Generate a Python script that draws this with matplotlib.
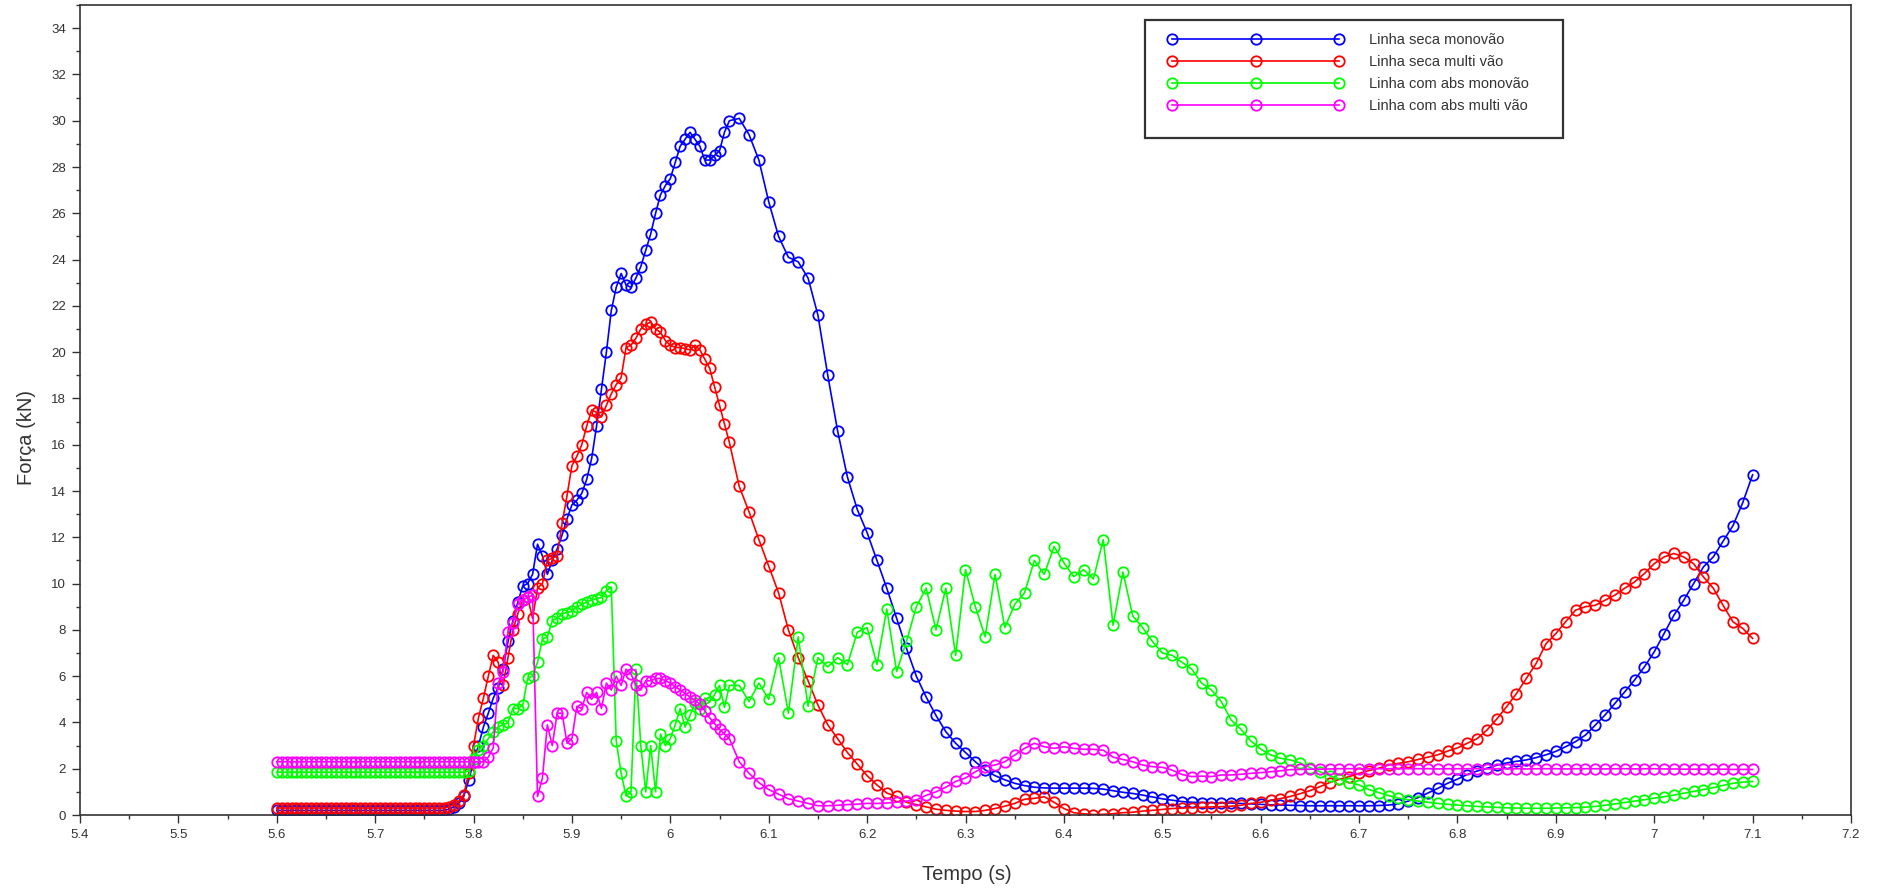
import numpy as np
import matplotlib
matplotlib.use("Agg")
import matplotlib.pyplot as plt
from matplotlib.patches import Rectangle
from matplotlib.ticker import MultipleLocator, FuncFormatter

plt.rcParams['font.family'] = ['Liberation Sans', 'DejaVu Sans']

# ---- data ----
tempo_fino = np.round(np.arange(5.600, 6.0575, 0.005), 3)    # 5.600 .. 6.055
tempo_grosso = np.round(np.arange(6.06, 7.1005, 0.01), 2)    # 6.06 .. 7.10
tempo = np.concatenate([tempo_fino, tempo_grosso])

seca_mono = [
    0.20, 0.20, 0.20, 0.20, 0.20, 0.20, 0.20, 0.20, 0.20, 0.20,
    0.20, 0.20, 0.20, 0.20, 0.20, 0.20, 0.20, 0.20, 0.20, 0.20,
    0.20, 0.20, 0.20, 0.20, 0.20, 0.20, 0.20, 0.20, 0.20, 0.20,
    0.20, 0.20, 0.20, 0.20, 0.20, 0.25, 0.35, 0.50, 0.80, 1.50,
    2.3, 3.0, 3.8, 4.4, 5.05, 5.5, 6.3, 7.5, 8.4, 9.2,
    9.9, 10.0, 10.4, 11.7, 11.2, 10.4, 11.0, 11.5, 12.1, 12.8,
    13.4, 13.6, 13.9, 14.5, 15.4, 16.8, 18.4, 20.0, 21.8, 22.8,
    23.4, 22.9, 22.8, 23.2, 23.7, 24.4, 25.1, 26.0, 26.8, 27.2,
    27.5, 28.2, 28.9, 29.2, 29.5, 29.2, 28.9, 28.3, 28.3, 28.5,
    28.7, 29.5,
    30.0, 30.1, 29.4, 28.3, 26.5, 25.0, 24.1, 23.9, 23.2, 21.6,
    19.0, 16.6, 14.6, 13.2, 12.2, 11.0, 9.8, 8.5, 7.2, 6.0,
    5.1, 4.3, 3.6, 3.1, 2.7, 2.3, 1.95, 1.7, 1.52, 1.37,
    1.27, 1.2, 1.17, 1.16, 1.16, 1.16, 1.16, 1.15, 1.12, 1.05,
    0.98, 0.93, 0.86, 0.78, 0.7, 0.64, 0.58, 0.55, 0.54, 0.53,
    0.52, 0.52, 0.5, 0.48, 0.46, 0.44, 0.43, 0.42, 0.41, 0.4,
    0.4, 0.4, 0.4, 0.4, 0.4, 0.4, 0.41, 0.43, 0.48, 0.6,
    0.75, 0.95, 1.15, 1.37, 1.55, 1.75, 1.9, 2.02, 2.15, 2.25,
    2.32, 2.38, 2.48, 2.6, 2.75, 2.95, 3.17, 3.45, 3.88, 4.32,
    4.82, 5.32, 5.83, 6.4, 7.05, 7.84, 8.63, 9.28, 10.0, 10.72,
    11.15, 11.83, 12.5, 13.5, 14.7,
]

seca_multi = [
    0.30, 0.30, 0.30, 0.30, 0.30, 0.30, 0.30, 0.30, 0.30, 0.30,
    0.30, 0.30, 0.30, 0.30, 0.30, 0.30, 0.30, 0.30, 0.30, 0.30,
    0.30, 0.30, 0.30, 0.30, 0.30, 0.30, 0.30, 0.30, 0.30, 0.30,
    0.30, 0.30, 0.30, 0.30, 0.30, 0.35, 0.45, 0.60, 0.88, 1.80,
    3.0, 4.2, 5.05, 6.0, 6.9, 6.6, 5.6, 6.8, 8.0, 8.7,
    9.3, 9.4, 8.5, 9.8, 10.0, 11.0, 11.1, 11.2, 12.6, 13.8,
    15.1, 15.5, 16.0, 16.8, 17.5, 17.4, 17.2, 17.7, 18.2, 18.6,
    18.9, 20.2, 20.3, 20.6, 21.0, 21.2, 21.3, 21.0, 20.85, 20.5,
    20.3, 20.2, 20.2, 20.15, 20.1, 20.3, 20.1, 19.7, 19.3, 18.5,
    17.7, 16.9,
    16.1, 14.2, 13.1, 11.9, 10.75, 9.6, 8.0, 6.8, 5.8, 4.75,
    3.9, 3.3, 2.7, 2.2, 1.7, 1.3, 0.95, 0.8, 0.55, 0.45,
    0.35, 0.25, 0.2, 0.17, 0.15, 0.15, 0.2, 0.28, 0.38, 0.5,
    0.68, 0.72, 0.79, 0.55, 0.28, 0.1, 0.05, 0.02, 0.03, 0.06,
    0.1, 0.12, 0.17, 0.2, 0.24, 0.28, 0.3, 0.32, 0.33, 0.35,
    0.36, 0.38, 0.42, 0.5, 0.55, 0.63, 0.71, 0.8, 0.92, 1.05,
    1.22, 1.4, 1.54, 1.66, 1.8, 1.92, 2.02, 2.16, 2.23, 2.3,
    2.4, 2.5, 2.6, 2.76, 2.9, 3.1, 3.3, 3.67, 4.15, 4.68,
    5.25, 5.9, 6.55, 7.4, 7.84, 8.35, 8.85, 9.0, 9.06, 9.28,
    9.5, 9.8, 10.07, 10.43, 10.86, 11.15, 11.3, 11.15, 10.86, 10.29,
    9.8, 9.06, 8.35, 8.06, 7.63,
]

abs_mono = [
    1.85, 1.85, 1.85, 1.85, 1.85, 1.85, 1.85, 1.85, 1.85, 1.85,
    1.85, 1.85, 1.85, 1.85, 1.85, 1.85, 1.85, 1.85, 1.85, 1.85,
    1.85, 1.85, 1.85, 1.85, 1.85, 1.85, 1.85, 1.85, 1.85, 1.85,
    1.85, 1.85, 1.85, 1.85, 1.85, 1.85, 1.85, 1.85, 1.85, 1.90,
    2.4, 2.8, 3.0, 3.3, 3.6, 3.8, 3.9, 4.0, 4.6, 4.6,
    4.75, 5.9, 6.0, 6.6, 7.6, 7.7, 8.4, 8.5, 8.7, 8.75,
    8.8, 9.0, 9.1, 9.2, 9.3, 9.35, 9.4, 9.7, 9.85, 3.2,
    1.8, 0.82, 1.0, 6.3, 3.0, 1.0, 3.0, 1.0, 3.5, 3.0,
    3.3, 3.9, 4.6, 3.8, 4.3, 4.85, 4.6, 5.05, 4.9, 5.2,
    5.6, 4.65,
    5.6, 5.6, 4.9, 5.7, 5.0, 6.8, 4.4, 7.7, 4.7, 6.8,
    6.4, 6.8, 6.5, 7.9, 8.1, 6.5, 8.9, 6.2, 7.5, 9.0,
    9.8, 8.0, 9.8, 6.9, 10.6, 9.0, 7.7, 10.4, 8.1, 9.1,
    9.6, 11.0, 10.4, 11.6, 10.9, 10.3, 10.6, 10.2, 11.9, 8.2,
    10.5, 8.6, 8.1, 7.5, 7.0, 6.9, 6.6, 6.3, 5.7, 5.4,
    4.9, 4.1, 3.7, 3.2, 2.85, 2.6, 2.45, 2.38, 2.25, 2.05,
    1.87, 1.7, 1.55, 1.4, 1.3, 1.1, 0.97, 0.84, 0.73, 0.66,
    0.6, 0.55, 0.5, 0.46, 0.43, 0.4, 0.37, 0.35, 0.33, 0.31,
    0.3, 0.29, 0.29, 0.29, 0.3, 0.31, 0.32, 0.34, 0.37, 0.42,
    0.48, 0.54, 0.6, 0.66, 0.73, 0.79, 0.86, 0.94, 1.02, 1.1,
    1.18, 1.28, 1.37, 1.42, 1.45,
]

abs_multi = [
    2.30, 2.30, 2.30, 2.30, 2.30, 2.30, 2.30, 2.30, 2.30, 2.30,
    2.30, 2.30, 2.30, 2.30, 2.30, 2.30, 2.30, 2.30, 2.30, 2.30,
    2.30, 2.30, 2.30, 2.30, 2.30, 2.30, 2.30, 2.30, 2.30, 2.30,
    2.30, 2.30, 2.30, 2.30, 2.30, 2.30, 2.30, 2.30, 2.30, 2.30,
    2.3, 2.3, 2.3, 2.5, 2.9, 5.7, 6.2, 7.9, 8.3, 9.1,
    9.3, 9.4, 9.5, 0.8, 1.6, 3.9, 3.0, 4.4, 4.4, 3.1,
    3.3, 4.7, 4.6, 5.3, 5.0, 5.3, 4.6, 5.7, 5.4, 6.0,
    5.6, 6.3, 6.1, 5.6, 5.4, 5.8, 5.8, 5.9, 5.9, 5.8,
    5.7, 5.55, 5.4, 5.25, 5.1, 4.95, 4.8, 4.5, 4.2, 3.95,
    3.7, 3.5,
    3.3, 2.3, 1.8, 1.4, 1.1, 0.9, 0.7, 0.6, 0.5, 0.4,
    0.4, 0.42, 0.45, 0.47, 0.5, 0.5, 0.52, 0.55, 0.6, 0.65,
    0.85, 1.0, 1.2, 1.45, 1.6, 1.87, 2.09, 2.16, 2.3, 2.59,
    2.88, 3.1, 2.95, 2.88, 2.95, 2.88, 2.84, 2.84, 2.8, 2.5,
    2.4, 2.3, 2.16, 2.09, 2.06, 1.94, 1.75, 1.66, 1.68, 1.66,
    1.73, 1.73, 1.76, 1.8, 1.83, 1.87, 1.91, 1.96, 1.97, 1.98,
    1.98, 1.99, 2.0, 2.0, 2.0, 1.99, 2.0, 2.0, 2.0, 2.0,
    2.0, 2.0, 1.99, 2.0, 2.0, 2.0, 2.0, 1.99, 2.0, 2.0,
    2.0, 1.99, 2.0, 2.0, 2.0, 1.99, 2.0, 2.0, 2.0, 1.99,
    2.0, 2.0, 1.99, 2.0, 2.0, 1.99, 1.99, 1.98, 1.98, 1.98,
    1.98, 1.98, 1.97, 1.97, 1.97,
]

series_labels = ["Linha seca monovão", "Linha seca multi vão",
                 "Linha com abs monovão", "Linha com abs multi vão"]
series_colors = ["#0000ff", "#ff0000", "#00ff00", "#ff00ff"]

# ---- figure ----
W, H = 1877, 890
fig = plt.figure(figsize=(W / 100, H / 100), dpi=100)
ax = fig.add_axes([80 / W, 75 / H, 1771 / W, 810 / H])

handles = []
for vals, lab, col in zip([seca_mono, seca_multi, abs_mono, abs_multi],
                          series_labels, series_colors):
    h, = ax.plot(tempo, vals, color=col, lw=1.2, marker='o', ms=7.5,
                 mfc='none', mec=col, mew=1.3, label=lab)
    handles.append(h)

ax.set_xlim(5.4, 7.2)
ax.set_ylim(0, 35)
ax.xaxis.set_major_locator(MultipleLocator(0.1))
ax.xaxis.set_minor_locator(MultipleLocator(0.05))
ax.yaxis.set_minor_locator(MultipleLocator(1))
fmt = FuncFormatter(lambda v, p: f"{round(v, 3):g}")
ax.xaxis.set_major_formatter(fmt)
ax.yaxis.set_major_formatter(fmt)
ax.set_yticks(np.arange(0, 35, 2))
ax.tick_params(which='major', direction='out', length=6, width=1.0,
               color='#333333', labelsize=9.5, labelcolor='#333333', pad=4)
ax.tick_params(which='minor', direction='out', length=3, width=1.0,
               color='#333333')
for s in ax.spines.values():
    s.set_color('#333333')
    s.set_linewidth(1.2)

fig.text(967 / W, 1 - 874 / H, "Tempo (s)", ha='center', va='center',
         fontsize=14.5, color='#333333')
fig.text(26 / W, 1 - 437 / H, "Força (kN)", ha='center', va='center',
         rotation=90, fontsize=14.5, color='#333333')

# legend box
fig.patches.append(Rectangle((1145 / W, 1 - 138 / H), 418 / W, 118 / H,
                             transform=fig.transFigure, facecolor='white',
                             edgecolor='#333333', lw=1.6, zorder=3))
leg = fig.legend(handles=handles, loc='upper left',
                 bbox_to_anchor=(1168 / W, 1 - 33 / H),
                 bbox_transform=fig.transFigure, numpoints=3,
                 frameon=False, fontsize=10.5, borderpad=0, borderaxespad=0,
                 handlelength=12.0, handletextpad=1.8, labelspacing=0.55)
leg.set_zorder(4)
for t in leg.get_texts():
    t.set_color('#333333')

fig.savefig("out.png", dpi=100)
